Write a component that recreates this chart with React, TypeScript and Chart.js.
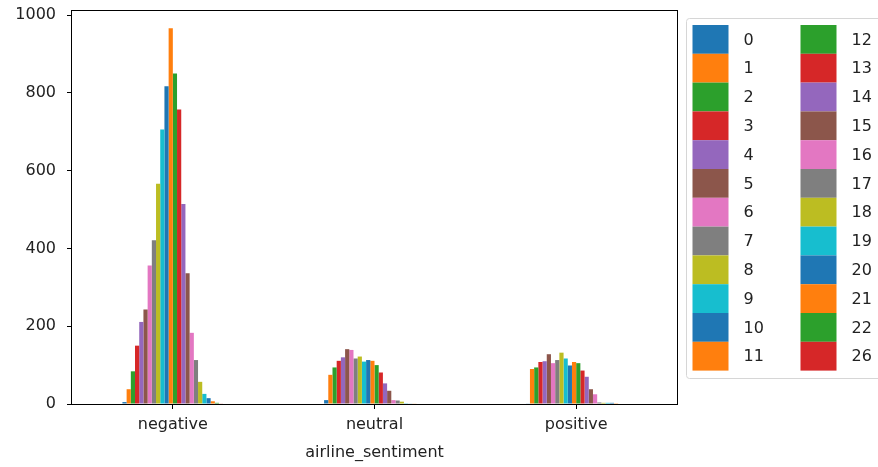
import React, { useEffect, useRef } from 'react';
import { Chart, registerables } from 'chart.js';

Chart.register(...registerables);

const categories = ['negative', 'neutral', 'positive'];
const seriesLabels = ['0', '1', '2', '3', '4', '5', '6', '7', '8', '9', '10', '11', '12', '13', '14', '15', '16', '17', '18', '19', '20', '21', '22', '26'];
const negativeValues = [5, 38, 84, 150, 211, 243, 356, 421, 566, 706, 817, 966, 850, 757, 514, 336, 183, 113, 57, 26, 15, 7, 3, 1];
const neutralValues = [10, 75, 94, 111, 120, 141, 139, 117, 122, 109, 113, 111, 100, 81, 53, 34, 10, 9, 6, 2, 1, 1, 0, 0];
const positiveValues = [1, 90, 94, 108, 110, 128, 105, 113, 132, 117, 99, 108, 105, 86, 70, 38, 25, 4, 3, 3, 3, 2, 0, 0];
const palette = ['#1f77b4', '#ff7f0e', '#2ca02c', '#d62728', '#9467bd', '#8c564b', '#e377c2', '#7f7f7f', '#bcbd22', '#17becf'];
const yMax = 1013;
const yTickValues = [0, 200, 400, 600, 800, 1000];
const xTitle = 'airline_sentiment';

const FONT = '"DejaVu Sans", sans-serif';

const framePlugin = {
  id: 'frameAndLegend',
  afterDraw(chart: any) {
    const ctx = chart.ctx as CanvasRenderingContext2D;
    const { left, top, right, bottom } = chart.chartArea;
    ctx.save();
    ctx.strokeStyle = '#000';
    ctx.lineWidth = 1;
    ctx.strokeRect(Math.round(left) - 0.5, Math.round(top) + 0.5, Math.round(right - left) + 1, Math.round(bottom - top));

    // legend box
    const bx = Math.round(right) + 9.5;
    const by = Math.round(top) + 8.5;
    const bw = 200;
    const bh = 360;
    ctx.beginPath();
    const r = 3;
    ctx.moveTo(bx + r, by);
    ctx.lineTo(bx + bw - r, by);
    ctx.quadraticCurveTo(bx + bw, by, bx + bw, by + r);
    ctx.lineTo(bx + bw, by + bh - r);
    ctx.quadraticCurveTo(bx + bw, by + bh, bx + bw - r, by + bh);
    ctx.lineTo(bx + r, by + bh);
    ctx.quadraticCurveTo(bx, by + bh, bx, by + bh - r);
    ctx.lineTo(bx, by + r);
    ctx.quadraticCurveTo(bx, by, bx + r, by);
    ctx.closePath();
    ctx.fillStyle = 'rgba(255,255,255,0.85)';
    ctx.fill();
    ctx.strokeStyle = '#d6d6d6';
    ctx.stroke();

    const ds = chart.data.datasets;
    const rows = Math.ceil(ds.length / 2);
    const rowH = 28.8;
    const sy = by + 6.5;
    ctx.font = '16px ' + FONT;
    ctx.textBaseline = 'middle';
    ctx.textAlign = 'left';
    ds.forEach((d: any, i: number) => {
      const col = Math.floor(i / rows);
      const row = i % rows;
      const sx = bx + 6 + col * 108;
      const y = sy + row * rowH;
      ctx.fillStyle = d.backgroundColor;
      ctx.fillRect(sx, y, 36, rowH);
      ctx.fillStyle = '#222';
      ctx.fillText(d.label, sx + 51, y + rowH / 2 + 1);
    });
    ctx.restore();
  },
};

export default function App() {
  const ref = useRef<HTMLCanvasElement | null>(null);
  useEffect(() => {
    if (!ref.current) return;
    const datasets = seriesLabels.map((label, i) => ({
      label,
      data: [negativeValues[i], neutralValues[i], positiveValues[i]],
      backgroundColor: palette[i % palette.length],
      borderWidth: 0,
      categoryPercentage: 0.5,
      barPercentage: 1.0,
    }));
    const chart = new Chart(ref.current, {
      type: 'bar',
      data: { labels: categories, datasets },
      plugins: [framePlugin],
      options: {
        responsive: false,
        animation: false,
        layout: { padding: { left: 0, right: 201, top: 10, bottom: 0 } },
        plugins: { legend: { display: false }, tooltip: { enabled: false } },
        scales: {
          x: {
            type: 'category',
            offset: true,
            grid: { offset: false, drawOnChartArea: false, drawTicks: true, tickLength: 5, color: '#000' },
            border: { display: false },
            ticks: { color: '#222', font: { family: FONT, size: 16 }, padding: 6, maxRotation: 0 },
            title: { display: true, text: xTitle, color: '#222', font: { family: FONT, size: 16 }, padding: { top: 0, bottom: 5 } },
            afterFit: (s: any) => { s.height = 63; s.paddingLeft = 0; s.paddingRight = 0; },
          },
          y: {
            min: 0,
            max: yMax,
            grid: { drawOnChartArea: false, drawTicks: true, tickLength: 5, color: '#000' },
            border: { display: false },
            afterBuildTicks: (s: any) => { s.ticks = yTickValues.map((v) => ({ value: v })); },
            ticks: { color: '#222', font: { family: FONT, size: 16 }, padding: 11, callback: (v: any) => String(v) },
            afterFit: (s: any) => { s.width = 72; s.paddingTop = 0; s.paddingBottom = 0; },
          },
        },
      } as any,
    });
    return () => chart.destroy();
  }, []);
  return (
    <div style={{ position: 'absolute', left: 0, top: 0, width: 878, height: 467, background: '#fff' }}>
      <canvas ref={ref} width={878} height={467} />
    </div>
  );
}
